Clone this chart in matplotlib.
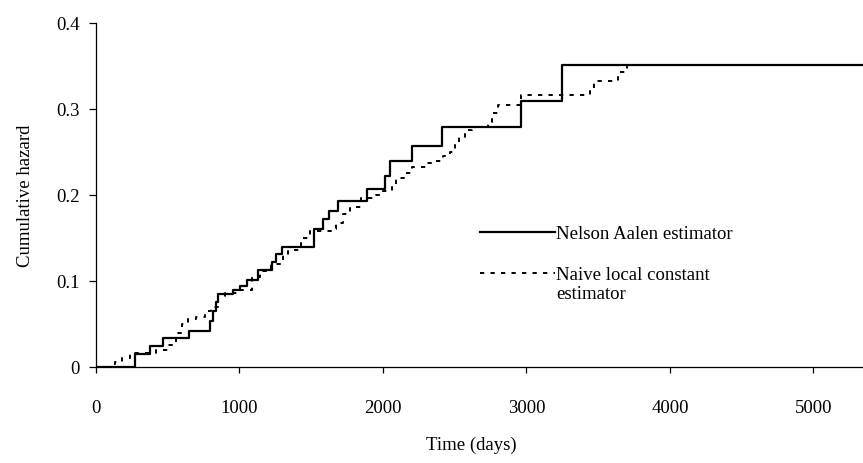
import matplotlib
matplotlib.use("Agg")
import matplotlib.pyplot as plt

# Nelson-Aalen estimator: jump times (days) and cumulative hazard after each jump
na_time = [0, 272, 376, 467, 648, 795, 815, 835, 850, 955, 1003, 1052, 1129,
           1226, 1255, 1296, 1519, 1582, 1624, 1687, 1889, 2014, 2049, 2202,
           2411, 2962, 3247]
na_hazard = [0.0, 0.015, 0.024, 0.034, 0.042, 0.053, 0.065, 0.076, 0.085,
             0.089, 0.094, 0.101, 0.113, 0.122, 0.131, 0.140, 0.160, 0.172,
             0.181, 0.193, 0.207, 0.222, 0.240, 0.257, 0.279, 0.309, 0.351]

# Naive local constant estimator
nlc_time = [0, 100, 132, 181, 237, 420, 500, 560, 600, 640, 700, 760, 800,
            850, 900, 1000, 1090, 1140, 1220, 1300, 1340, 1430, 1490, 1640,
            1670, 1720, 1770, 1850, 1950, 2000, 2060, 2090, 2150, 2200, 2300,
            2350, 2420, 2470, 2500, 2530, 2570, 2620, 2730, 2760, 2800, 2960,
            3440, 3470, 3640, 3700]
nlc_hazard = [0.0, 0.003, 0.006, 0.011, 0.016, 0.020, 0.025, 0.040, 0.050,
              0.056, 0.058, 0.065, 0.070, 0.082, 0.086, 0.089, 0.105, 0.112,
              0.120, 0.130, 0.136, 0.150, 0.158, 0.160, 0.168, 0.178, 0.186,
              0.196, 0.200, 0.205, 0.210, 0.220, 0.226, 0.232, 0.237, 0.240,
              0.245, 0.250, 0.259, 0.267, 0.275, 0.279, 0.285, 0.295, 0.305,
              0.316, 0.323, 0.333, 0.343, 0.351]

t_end = 5400
x_ticks = [0, 1000, 2000, 3000, 4000, 5000]
y_ticks = [0, 0.1, 0.2, 0.3, 0.4]
y_tick_labels = ["0", "0.1", "0.2", "0.3", "0.4"]

plt.rcParams["font.family"] = ["Liberation Serif", "DejaVu Serif"]
plt.rcParams["font.size"] = 13.5

fig = plt.figure(figsize=(8.63, 4.64), dpi=100)
ax = fig.add_axes([0.1112, 0.2069, 0.8888, 0.7414])

ax.step(na_time + [t_end], na_hazard + [na_hazard[-1]], where="post",
        color="black", lw=1.6, label="Nelson Aalen estimator")
ax.step(nlc_time + [t_end], nlc_hazard + [nlc_hazard[-1]], where="post",
        color="black", lw=1.4, linestyle=(0, (2.2, 3.2)),
        label="Naive local constant")

ax.set_xlim(0, 5345)
ax.set_ylim(0, 0.4)
ax.set_xticks(x_ticks)
ax.set_yticks(y_ticks)
ax.set_yticklabels(y_tick_labels)

for side in ("top", "right"):
    ax.spines[side].set_visible(False)
for side in ("left", "bottom"):
    ax.spines[side].set_linewidth(0.9)

ax.tick_params(axis="y", direction="out", length=5, width=0.9, pad=7)
ax.tick_params(axis="x", direction="out", length=4, width=0.9, pad=19)

ax.set_ylabel("Cumulative hazard", labelpad=16)
ax.set_xlabel("Time (days)")
ax.xaxis.set_label_coords(0.489, -0.20)

ax.legend(loc="upper left", bbox_to_anchor=(0.5006, 0.4125), frameon=False,
          handlelength=4.0, handletextpad=0.08, labelspacing=1.27,
          borderaxespad=0, borderpad=0)
# second line of the dotted-series label, set under its first line
ax.text(0.5997, 0.214, "estimator", transform=ax.transAxes,
        ha="left", va="center")

fig.savefig("out.png", dpi=100)
